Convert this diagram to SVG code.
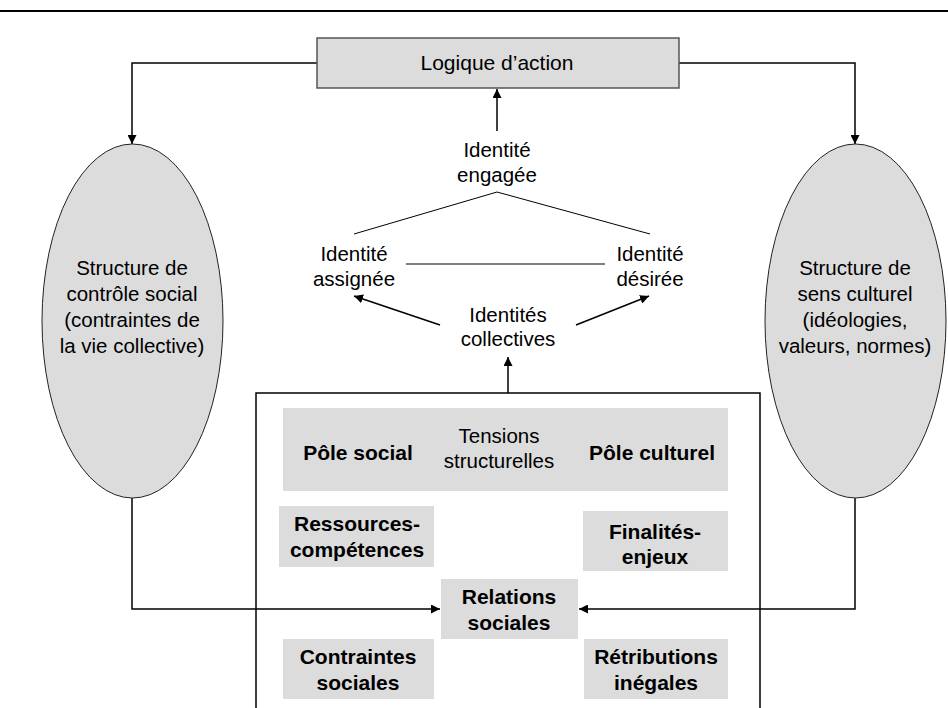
<svg xmlns="http://www.w3.org/2000/svg" width="948" height="708" viewBox="0 0 948 708">
<defs>
<marker id="arr" viewBox="0 0 10 10" refX="10" refY="5" markerWidth="9" markerHeight="9" markerUnits="userSpaceOnUse" orient="auto">
<path d="M0,0 L10,5 L0,10 z" fill="#000"/>
</marker>
<style>
text{font-family:"Liberation Sans",Arial,sans-serif;font-size:20.5px;fill:#000;text-anchor:middle}
.b{font-weight:bold;font-size:21px}
.g{fill:#dcdcdc}
.ell{fill:#dcdcdc;stroke:#222;stroke-width:1}
.ln{fill:none;stroke:#000;stroke-width:1.5}
.th{fill:none;stroke:#000;stroke-width:1}
</style>
</defs>
<rect width="948" height="708" fill="#fff"/>
<line x1="0" y1="11" x2="948" y2="11" stroke="#000" stroke-width="2"/>

<g id="connectors">
<polyline class="ln" points="317,63 132,63 132,144" marker-end="url(#arr)"/>
<polyline class="ln" points="679,63 855,63 855,144" marker-end="url(#arr)"/>
<line class="ln" x1="497" y1="131" x2="497" y2="89" marker-end="url(#arr)"/>
<polyline class="th" points="354,234 497,192 650,234"/>
<line class="th" x1="406" y1="264" x2="605" y2="264"/>
<line class="ln" x1="440" y1="325" x2="354" y2="296" marker-end="url(#arr)"/>
<line class="ln" x1="576" y1="325" x2="649" y2="296" marker-end="url(#arr)"/>
<line class="ln" x1="508" y1="393" x2="508" y2="357" marker-end="url(#arr)"/>
<polyline class="ln" points="132,498 132,609 440,609" marker-end="url(#arr)"/>
<polyline class="ln" points="855,498 855,609 579,609" marker-end="url(#arr)"/>
</g>

<g id="logique">
<rect x="317" y="38" width="362" height="50" fill="#dcdcdc" stroke="#555" stroke-width="1.5"/>
<text x="497" y="70" style="font-size:21px">Logique d’action</text>
</g>

<g id="controle">
<ellipse class="ell" cx="132.5" cy="321" rx="90.5" ry="177"/>
<text x="132" y="275">Structure de</text>
<text x="132" y="301">contrôle social</text>
<text x="132" y="327">(contraintes de</text>
<text x="132" y="353">la vie collective)</text>
</g>

<g id="sens">
<ellipse class="ell" cx="855.5" cy="321" rx="90.5" ry="177"/>
<text x="855" y="275">Structure de</text>
<text x="855" y="301">sens culturel</text>
<text x="855" y="327">(idéologies,</text>
<text x="855" y="353">valeurs, normes)</text>
</g>

<g id="engagee">
<text x="497" y="157">Identité</text>
<text x="497" y="182">engagée</text>
</g>
<g id="assignee">
<text x="354" y="261">Identité</text>
<text x="354" y="286">assignée</text>
</g>
<g id="desiree">
<text x="650" y="261">Identité</text>
<text x="650" y="286">désirée</text>
</g>
<g id="collectives">
<text x="508" y="322">Identités</text>
<text x="508" y="346">collectives</text>
</g>

<g id="container">
<polyline fill="none" stroke="#000" stroke-width="1.5" points="256,708 256,393 760,393 760,708"/>
</g>

<g id="tensions">
<rect class="g" x="283" y="408" width="445" height="83"/>
<text class="b" x="358" y="460">Pôle social</text>
<text x="499" y="443">Tensions</text>
<text x="499" y="468">structurelles</text>
<text class="b" x="652" y="460">Pôle culturel</text>
</g>

<g id="ressources">
<rect class="g" x="279" y="506" width="155" height="61"/>
<text class="b" x="357" y="531">Ressources-</text>
<text class="b" x="357" y="557">compétences</text>
</g>

<g id="finalites">
<rect class="g" x="583" y="511" width="145" height="60"/>
<text class="b" x="655" y="539">Finalités-</text>
<text class="b" x="655" y="564">enjeux</text>
</g>

<g id="relations">
<rect class="g" x="441" y="579" width="137" height="60"/>
<text class="b" x="509" y="604">Relations</text>
<text class="b" x="509" y="630">sociales</text>
</g>

<g id="contraintes">
<rect class="g" x="283" y="639" width="151" height="60"/>
<text class="b" x="358" y="664">Contraintes</text>
<text class="b" x="358" y="690">sociales</text>
</g>

<g id="retributions">
<rect class="g" x="584" y="639" width="144" height="60"/>
<text class="b" x="656" y="664">Rétributions</text>
<text class="b" x="656" y="690">inégales</text>
</g>
</svg>
